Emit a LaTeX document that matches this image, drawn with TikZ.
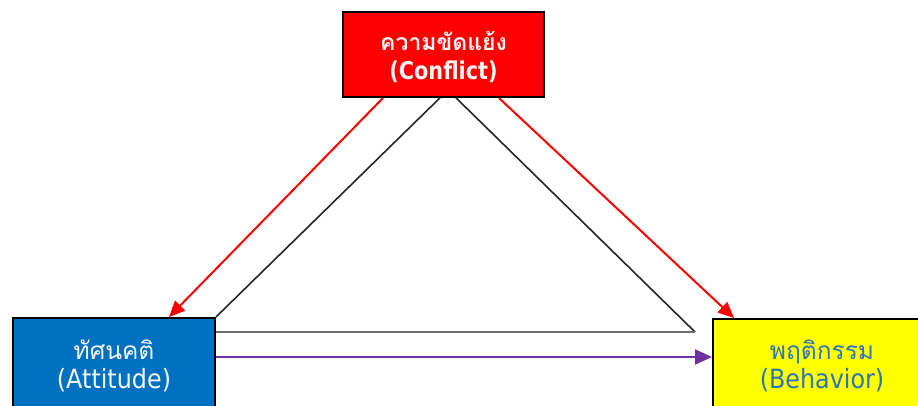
\documentclass[tikz,border=0pt]{standalone}
\usepackage{fontspec}
\newfontfamily\thaifont[Script=Thai]{Loma}
\newfontfamily\latfont[FakeStretch=0.9]{DejaVu Sans}
\newfontfamily\latboldfont[FakeStretch=0.85]{DejaVu Sans}
\usetikzlibrary{arrows.meta,calc,backgrounds}
\definecolor{boxred}{RGB}{255,0,0}
\definecolor{boxblue}{RGB}{0,112,192}
\definecolor{boxyellow}{RGB}{255,255,0}
\definecolor{behtext}{RGB}{46,117,182}
\definecolor{arrowpurple}{RGB}{112,48,160}
\definecolor{linegray}{RGB}{110,110,110}
\definecolor{textwhite}{RGB}{245,245,245}
\tikzset{
  conceptbox/.style={draw=black, line width=2pt, rectangle, inner sep=0pt},
  thaitext/.style={anchor=base, inner sep=0pt, font=\thaifont\fontsize{24.5}{29}\selectfont},
  engtext/.style={anchor=base, inner sep=0pt, font=\latfont\fontsize{26.5}{29}\selectfont},
  thaibold/.style={anchor=base, inner sep=0pt, font=\thaifont\bfseries\fontsize{23}{29}\selectfont},
  engbold/.style={anchor=base, inner sep=0pt, font=\latboldfont\bfseries\fontsize{24.5}{29}\selectfont},
  redarrow/.style={draw=boxred, line width=2pt, -{Triangle[length=16pt,width=14pt]}},
  purplearrow/.style={draw=arrowpurple, line width=2pt, -{Triangle[length=17pt,width=15pt]}},
  triline/.style={draw=black!85, line width=1.6pt},
  baseline/.style={draw=linegray, line width=2pt}
}
\begin{document}
\begin{tikzpicture}[x=1pt,y=-1pt]
\useasboundingbox (0,0) rectangle (918,405);
\clip (0,0) rectangle (918,405);

% boxes
\node[conceptbox, fill=boxred, minimum width=201pt, minimum height=85pt] (conf) at (443.5,54.5) {};
\node[conceptbox, fill=boxblue, minimum width=202pt, minimum height=96pt] (att) at (114,366) {};
\node[conceptbox, fill=boxyellow, minimum width=220pt, minimum height=96pt] (beh) at (823,367) {};

% texts
\node[thaibold, text=textwhite] (conf-th) at (443.5,50) {ความขัดแย้ง};
\node[engbold, text=textwhite] (conf-en) at (443.5,79) {(Conflict)};
\node[thaitext, text=textwhite] (att-th) at (114,359) {ทัศนคติ};
\node[engtext, text=textwhite] (att-en) at (114,388) {(Attitude)};
\node[thaitext, text=behtext] (beh-th) at (822,359) {พฤติกรรม};
\node[engtext, text=behtext] (beh-en) at (822,388) {(Behavior)};

% triangle (behind boxes)
\coordinate (apex) at (448,90);
\coordinate (tri-r) at (695,332);
\begin{pgfonlayer}{background}
  \fill[white] (0,0) rectangle (918,405);
  \draw[triline] (att.north east) -- (apex) -- (tri-r);
  \draw[baseline] (att.east |- tri-r) -- (tri-r);
\end{pgfonlayer}

% red arrows
\draw[redarrow] ($(conf.south west)+(41,0)$) -- ($(att.north west)+(157,0)$);
\draw[redarrow] ($(conf.south east)+(-46,0)$) -- ($(beh.north west)+(22,0)$);

% purple arrow
\coordinate (p1) at ($(att.north east)+(0,40)$);
\draw[purplearrow] (p1) -- (p1 -| beh.west);
\end{tikzpicture}
\end{document}
